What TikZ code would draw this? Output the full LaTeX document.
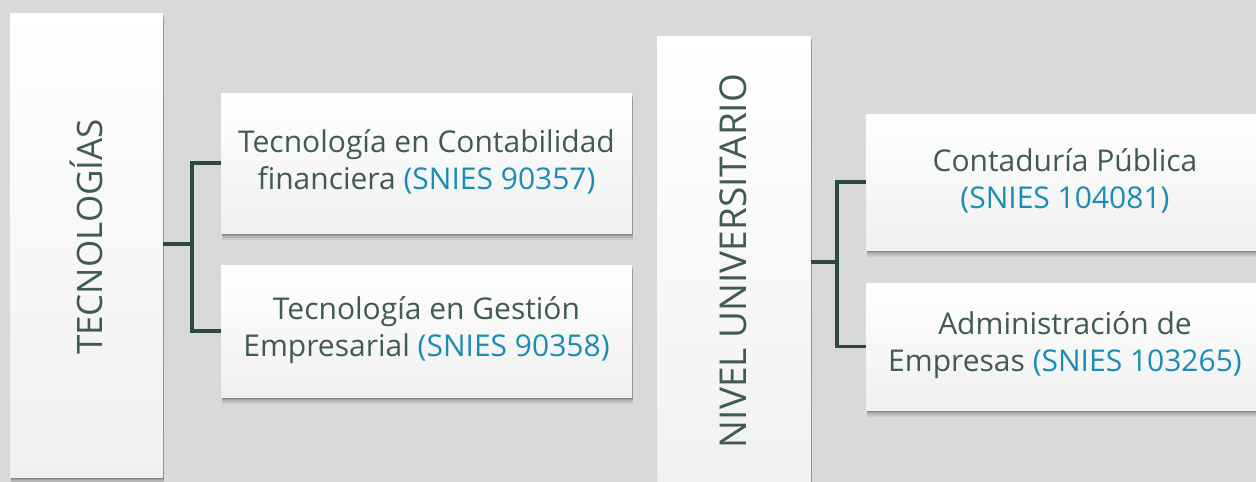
\documentclass[tikz,border=0pt]{standalone}
\usepackage{fontspec}
\setmainfont{Open Sans}
\usetikzlibrary{shadows}
\definecolor{bg}{HTML}{D9D9D9}
\definecolor{txt}{HTML}{405C4C}
\definecolor{snies}{HTML}{1B8DB5}
\definecolor{conn}{HTML}{2E4A3B}
\definecolor{boxbot}{HTML}{F0F0F0}
\tikzset{
  card/.style={rectangle, inner sep=0pt, shading=axis, top color=white, bottom color=boxbot,
    general shadow={shadow xshift=1pt, shadow yshift=-7pt, opacity=.07, fill=black},
    general shadow={shadow xshift=1pt, shadow yshift=-5pt, opacity=.09, fill=black},
    general shadow={shadow xshift=1pt, shadow yshift=-3pt, opacity=.12, fill=black},
    general shadow={shadow xshift=.5pt, shadow yshift=-1.5pt, opacity=.15, fill=black}},
  cardtext/.style={font=\fontsize{30}{37}\selectfont, text=txt, align=center},
  vlabel/.style={font=\fontsize{35}{40}\selectfont, text=txt, rotate=90, inner sep=0pt},
  link/.style={draw=conn, line width=3.5pt},
}
\newcommand{\sn}[1]{\textcolor{snies}{#1}}
\begin{document}
\begin{tikzpicture}[x=1pt,y=-1pt]
\useasboundingbox (0,0) rectangle (1256,482);
\fill[bg] (0,0) rectangle (1256,482);
\clip (0,0) rectangle (1256,482);
% left column
\node[card, minimum width=153pt, minimum height=464pt] (tec) at (86.5,245) {};
\node[vlabel] (tecl) at (86,237) {TECNOLOGÍAS};
\node[card, minimum width=411pt, minimum height=140pt] (b1) at (426.5,163) {};
\node[cardtext] (b1t) at (426.5,162) {Tecnología en Contabilidad\\financiera \sn{(SNIES 90357)}};
\node[card, minimum width=411pt, minimum height=132pt] (b2) at (426.5,331) {};
\node[cardtext] (b2t) at (426.5,330) {Tecnología en Gestión\\Empresarial \sn{(SNIES 90358)}};
% right column
\node[card, minimum width=154pt, minimum height=484pt] (uni) at (734,278) {};
\node[vlabel, font=\fontsize{37}{42}\selectfont] (unil) at (733,261) {NIVEL UNIVERSITARIO};
\node[card, minimum width=398pt, minimum height=136pt] (b3) at (1065,182) {};
\node[cardtext] (b3t) at (1065,181) {Contaduría Pública\\\sn{(SNIES 104081)}};
\node[card, minimum width=398pt, minimum height=127pt] (b4) at (1065,346.5) {};
\node[cardtext] (b4t) at (1065,345) {Administración de\\Empresas \sn{(SNIES 103265)}};
% connectors
\coordinate (j1) at (192,244);
\draw[link] (tec.east |- j1) -- (j1);
\draw[link] (b1.west) -- (b1.west -| j1) -- (b2.west -| j1) -- (b2.west);
\coordinate (j2) at (837,262);
\draw[link] (uni.east |- j2) -- (j2);
\draw[link] (b3.west) -- (b3.west -| j2) -- (b4.west -| j2) -- (b4.west);
\end{tikzpicture}
\end{document}
